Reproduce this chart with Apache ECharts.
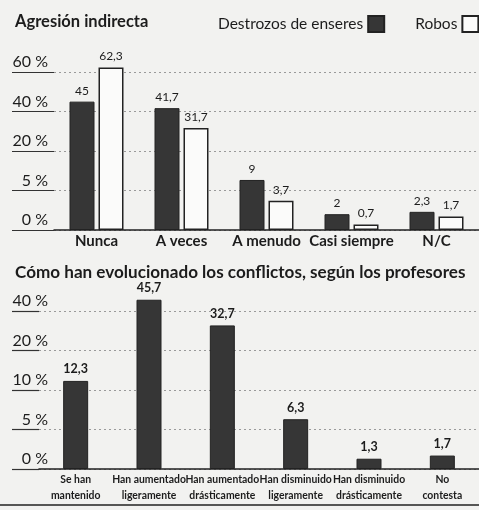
<!DOCTYPE html>
<html>
<head>
<meta charset="utf-8">
<script src="https://cdn.jsdelivr.net/npm/echarts@6/dist/echarts.min.js"></script>
<style>
html,body{margin:0;padding:0;background:#f2f2f0;}
#c{width:479px;height:510px;}
</style>
</head>
<body>
<div id="c"></div>
<script>
// ---- data ----
const topCategories = ['Nunca', 'A veces', 'A menudo', 'Casi siempre', 'N/C'];
const destrozos = [45, 41.7, 9, 2, 2.3];
const robos = [62.3, 31.7, 3.7, 0.7, 1.7];
const topTicks = [0, 5, 20, 40, 60];

const bottomCategories = ['Se han\nmantenido', 'Han aumentado\nligeramente', 'Han aumentado\ndrásticamente', 'Han disminuido\nligeramente', 'Han disminuido\ndrásticamente', 'No\ncontesta'];
const conflictos = [12.3, 45.7, 32.7, 6.3, 1.3, 1.7];
const bottomTicks = [0, 5, 10, 20, 40];

// piecewise axis scale: tick i sits at position i
function toPos(v, ticks) {
  for (let i = 0; i < ticks.length - 1; i++) {
    if (v <= ticks[i + 1]) return i + (v - ticks[i]) / (ticks[i + 1] - ticks[i]);
  }
  const n = ticks.length - 1;
  return n + (v - ticks[n]) / (ticks[n] - ticks[n - 1]);
}
const fmt = v => String(v).replace('.', ',');
const mk = (arr, ticks) => arr.map(v => ({ value: toPos(v, ticks), raw: v }));

const NARROW = "Lato, Roboto, 'Liberation Sans', sans-serif";
const SANS = "Lato, Roboto, 'Liberation Sans', sans-serif";
const INK = '#1c1c1c';
const DARK = '#363636';

const chart = echarts.init(document.getElementById('c'), null, { renderer: 'canvas' });

const yAxisCommon = (ticks, tickLen, margin) => ({
  type: 'value', min: 0, max: 4, interval: 1,
  axisLine: { show: false },
  axisTick: { show: true, length: tickLen, lineStyle: { color: '#333', width: 1.2 } },
  splitLine: { show: true, lineStyle: { color: '#9a9a9a', type: [2, 3], width: 1 } },
  axisLabel: {
    margin: margin, align: 'right', verticalAlign: 'bottom', padding: [0, 0, 2, 0],
    fontFamily: SANS, fontSize: 16, color: INK,
    formatter: v => ticks[Math.round(v)] + ' %'
  }
});

chart.setOption({
  backgroundColor: '#f2f2f0',
  animation: false,
  title: [
    { text: 'Agresión indirecta', left: 10, top: 8,
      textStyle: { fontFamily: NARROW, fontWeight: 'bold', fontSize: 16.5, color: INK } },
    { text: 'Cómo han evolucionado los conflictos, según los profesores', left: 10, top: 259,
      textStyle: { fontFamily: NARROW, fontWeight: 'bold', fontSize: 17.1, color: INK } }
  ],
  legend: {
    left: 213, top: 10, align: 'right', itemGap: 30, itemWidth: 16, itemHeight: 16, icon: 'rect',
    textStyle: { fontFamily: NARROW, fontSize: 15.5, color: INK },
    data: ['Destrozos de enseres', 'Robos']
  },
  grid: [
    { left: 54, top: 72, width: 441, height: 158 },
    { left: 39, top: 311, width: 465, height: 158 }
  ],
  xAxis: [
    { gridIndex: 0, type: 'category', data: topCategories,
      axisLine: { lineStyle: { color: '#222', width: 1.5 } },
      axisTick: { show: false },
      axisLabel: { margin: 4, fontFamily: NARROW, fontWeight: 'bold', fontSize: 15, color: INK, interval: 0 } },
    { gridIndex: 1, type: 'category', data: bottomCategories,
      axisLine: { lineStyle: { color: '#222', width: 1.5 } },
      axisTick: { show: false },
      axisLabel: { margin: 3, fontFamily: NARROW, fontWeight: 'bold', fontSize: 10.4, lineHeight: 16, color: INK, interval: 0 } }
  ],
  yAxis: [
    Object.assign({ gridIndex: 0 }, yAxisCommon(topTicks, 42, 6)),
    Object.assign({ gridIndex: 1 }, yAxisCommon(bottomTicks, 27, -9))
  ],
  series: [
    { name: 'Destrozos de enseres', type: 'bar', xAxisIndex: 0, yAxisIndex: 0,
      data: mk(destrozos, topTicks), barWidth: 25, barGap: '16%', clip: false,
      itemStyle: { color: DARK, borderColor: '#222', borderWidth: 1 },
      label: { show: true, position: 'top', distance: 5, fontFamily: NARROW, fontSize: 12, color: INK,
               formatter: p => fmt(p.data.raw) } },
    { name: 'Robos', type: 'bar', xAxisIndex: 0, yAxisIndex: 0,
      data: mk(robos, topTicks), barWidth: 25, barGap: '16%', clip: false,
      itemStyle: { color: '#fbfbfa', borderColor: '#222', borderWidth: 1.5 },
      label: { show: true, position: 'top', distance: 5, fontFamily: NARROW, fontSize: 12, color: INK,
               formatter: p => fmt(p.data.raw) } },
    { name: 'Conflictos', type: 'bar', xAxisIndex: 1, yAxisIndex: 1,
      data: mk(conflictos, bottomTicks), barWidth: 25, clip: false,
      itemStyle: { color: DARK, borderColor: '#222', borderWidth: 1 },
      label: { show: true, position: 'top', distance: 5, fontFamily: NARROW, fontWeight: 'bold', fontSize: 12.5, color: INK,
               formatter: p => fmt(p.data.raw) } }
  ],
  graphic: [
    { type: 'line', shape: { x1: 0, y1: 505, x2: 479, y2: 505 }, style: { stroke: '#222', lineWidth: 1.5 } }
  ]
});
</script>
</body>
</html>
